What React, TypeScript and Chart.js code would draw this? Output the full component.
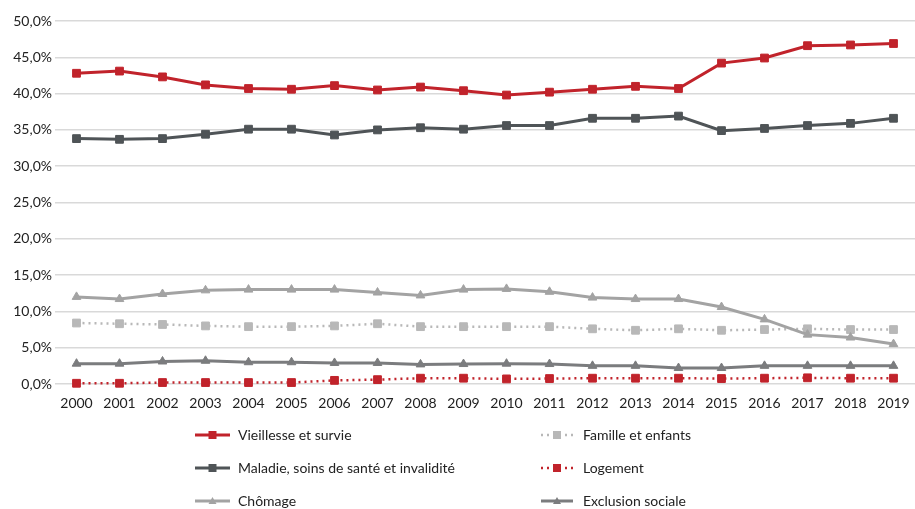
import React, { useEffect, useRef } from "react";
import { Chart, registerables } from "chart.js";

Chart.register(...registerables);

const years = ["2000","2001","2002","2003","2004","2005","2006","2007","2008","2009","2010","2011","2012","2013","2014","2015","2016","2017","2018","2019"];

const vieillesse = [42.8,43.1,42.3,41.2,40.7,40.6,41.1,40.5,40.9,40.4,39.8,40.2,40.6,41.0,40.7,44.2,44.9,46.6,46.7,46.9];
const maladie = [33.8,33.7,33.8,34.4,35.1,35.1,34.3,35.0,35.3,35.1,35.6,35.6,36.6,36.6,36.9,34.9,35.2,35.6,35.9,36.6];
const chomage = [12.0,11.7,12.4,12.9,13.0,13.0,13.0,12.6,12.2,13.0,13.1,12.7,11.9,11.7,11.7,10.6,8.9,6.8,6.4,5.5];
const famille = [8.4,8.3,8.2,8.0,7.9,7.9,8.0,8.3,7.9,7.9,7.9,7.9,7.6,7.4,7.6,7.4,7.5,7.6,7.5,7.5];
const logement = [0.1,0.1,0.2,0.2,0.2,0.2,0.5,0.6,0.8,0.8,0.7,0.75,0.8,0.8,0.8,0.75,0.8,0.85,0.8,0.8];
const exclusion = [2.8,2.8,3.1,3.2,3.0,3.0,2.9,2.9,2.7,2.75,2.8,2.75,2.5,2.5,2.2,2.2,2.5,2.5,2.5,2.5];

const yTicks = [0, 5, 10, 15, 20, 25, 30, 35, 40, 45, 50];

const FONT = "Lato, 'Open Sans', sans-serif";
const RED = "#c1232b";
const DARK = "#4f5457";
const LIGHT = "#a3a3a3";
const PALE = "#b8b8b8";
const MID = "#7b7c7e";

type SeriesDef = {
  label: string;
  data: number[];
  color: string;
  dash: number[];
  width: number;
  point: "rect" | "triangle";
  radius: number;
  col: number;
  row: number;
};

const series: SeriesDef[] = [
  { label: "Vieillesse et survie", data: vieillesse, color: RED, dash: [], width: 3, point: "rect", radius: 5.5, col: 0, row: 0 },
  { label: "Maladie, soins de santé et invalidité", data: maladie, color: DARK, dash: [], width: 3, point: "rect", radius: 5.5, col: 0, row: 1 },
  { label: "Chômage", data: chomage, color: LIGHT, dash: [], width: 3, point: "triangle", radius: 5, col: 0, row: 2 },
  { label: "Famille et enfants", data: famille, color: PALE, dash: [2, 4], width: 2.5, point: "rect", radius: 5.5, col: 1, row: 0 },
  { label: "Logement", data: logement, color: RED, dash: [2, 4], width: 2.5, point: "rect", radius: 5.5, col: 1, row: 1 },
  { label: "Exclusion sociale", data: exclusion, color: MID, dash: [], width: 3, point: "triangle", radius: 5, col: 1, row: 2 },
];

// Two-column legend under the plot
const legendCols = [
  { lineStart: 195, lineEnd: 230, text: 238 },
  { lineStart: 541, lineEnd: 573, text: 583 },
];
const legendRows = [435, 468, 501];

const legendPlugin = {
  id: "twoColumnLegend",
  afterDraw(chart: any) {
    const ctx = chart.ctx as CanvasRenderingContext2D;
    ctx.save();
    series.forEach((s) => {
      const c = legendCols[s.col];
      const y = legendRows[s.row];
      ctx.strokeStyle = s.color;
      ctx.fillStyle = s.color;
      ctx.lineWidth = s.width;
      ctx.setLineDash(s.dash);
      ctx.beginPath();
      ctx.moveTo(c.lineStart, y);
      ctx.lineTo(c.lineEnd, y);
      ctx.stroke();
      ctx.setLineDash([]);
      const mx = (c.lineStart + c.lineEnd) / 2;
      ctx.beginPath();
      if (s.point === "rect") {
        ctx.rect(mx - 4, y - 4, 8, 8);
      } else {
        ctx.moveTo(mx, y - 4);
        ctx.lineTo(mx + 4, y + 3);
        ctx.lineTo(mx - 4, y + 3);
        ctx.closePath();
      }
      ctx.fill();
      ctx.fillStyle = "#222";
      ctx.font = `14px ${FONT}`;
      ctx.textBaseline = "middle";
      ctx.textAlign = "left";
      ctx.fillText(s.label, c.text, y);
    });
    ctx.restore();
  },
};

export default function App() {
  const ref = useRef<HTMLCanvasElement | null>(null);

  useEffect(() => {
    document.body.style.margin = "0";
    if (!ref.current) return;
    const chart = new Chart(ref.current, {
      type: "line",
      data: {
        labels: years,
        datasets: series.map((s) => ({
          label: s.label,
          data: s.data,
          borderColor: s.color,
          backgroundColor: s.color,
          borderWidth: s.width,
          borderDash: s.dash,
          pointStyle: s.point,
          pointRadius: s.radius,
          pointBorderWidth: 1,
          pointBackgroundColor: s.color,
          pointBorderColor: s.color,
          tension: 0,
          fill: false,
          clip: false,
        })),
      },
      options: {
        animation: false,
        responsive: false,
        maintainAspectRatio: false,
        layout: { autoPadding: false, padding: { top: 21, right: 0, bottom: 95, left: 0 } },
        plugins: {
          legend: { display: false },
          tooltip: { enabled: false },
        },
        scales: {
          x: {
            offset: true,
            grid: { display: false },
            border: { display: false },
            ticks: {
              color: "#222",
              font: { family: FONT, size: 14 },
              maxRotation: 0,
              autoSkip: false,
              padding: 3,
            },
            afterFit: (scale: any) => {
              scale.height = 30;
              scale.paddingLeft = 0;
              scale.paddingRight = 0;
            },
          },
          y: {
            min: 0,
            max: 50,
            afterBuildTicks: (scale: any) => {
              scale.ticks = yTicks.map((v) => ({ value: v }));
            },
            grid: { color: "#d9d9d9", lineWidth: 1.5, drawTicks: false },
            border: { display: false },
            ticks: {
              color: "#222",
              font: { family: FONT, size: 14 },
              padding: 3,
              callback: (v: any) => `${Number(v).toFixed(1).replace(".", ",")}%`,
            },
            afterFit: (scale: any) => {
              scale.width = 55;
            },
          },
        },
      },
      plugins: [legendPlugin],
    });
    return () => chart.destroy();
  }, []);

  return (
    <div style={{ width: 915, height: 509, background: "#fff" }}>
      <canvas ref={ref} width={915} height={509} style={{ display: "block" }} />
    </div>
  );
}
